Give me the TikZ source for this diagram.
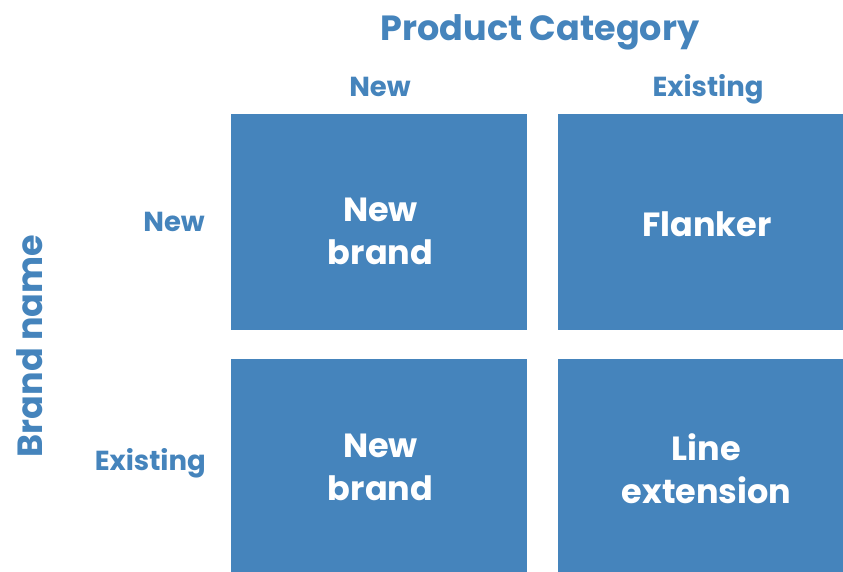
\documentclass[tikz,border=0pt]{standalone}
\usepackage{fontspec}
\setmainfont{Poppins}
\usepackage{xcolor}
\definecolor{matblue}{RGB}{69,132,188}

\begin{document}
\begin{tikzpicture} [x=1pt,y=-1pt,
  cell/.style={fill=matblue,inner sep=0pt},
  celltext/.style={text=white,align=center,inner sep=0pt,
    font=\fontsize{33.5}{43}\selectfont\bfseries},
  head/.style={text=matblue,inner sep=0pt,font=\fontsize{27.5}{32}\selectfont\bfseries},
  bighead/.style={head,font=\fontsize{35}{40}\selectfont\bfseries}]
\useasboundingbox (0,0) rectangle (843,572);
% the four cells
\node[cell,minimum width=296pt,minimum height=216pt] (nn) at (379,222) {};
\node[cell,minimum width=285pt,minimum height=216pt] (ne) at (700.5,222) {};
\node[cell,minimum width=296pt,minimum height=213pt] (en) at (379,465.5) {};
\node[cell,minimum width=285pt,minimum height=213pt] (ee) at (700.5,465.5) {};
\node[celltext] (nntext) at ([xshift=1.5pt,yshift=-9.5pt]nn.center) {New\\brand};
\node[celltext] (netext) at ([xshift=6.5pt,yshift=-2pt]ne.center) {Flanker};
\node[celltext] (entext) at ([xshift=1.5pt,yshift=-2pt]en.center) {New\\brand};
\node[celltext] (eetext) at ([xshift=6pt,yshift=-3pt]ee.center) {Line\\extension};
% headings
\node[bighead,anchor=base] (title) at (540,41) {Product Category};
\node[head,anchor=base] (colnew) at (380,97) {New};
\node[head,anchor=base] (colold) at (708,97) {Existing};
\node[head,anchor=base east] (rownew) at (205,232) {New};
\node[head,anchor=base east] (rowold) at (206,470) {Existing};
\node[bighead,anchor=base,rotate=90] (side) at (42,346) {Brand name};
\end{tikzpicture}
\end{document}
